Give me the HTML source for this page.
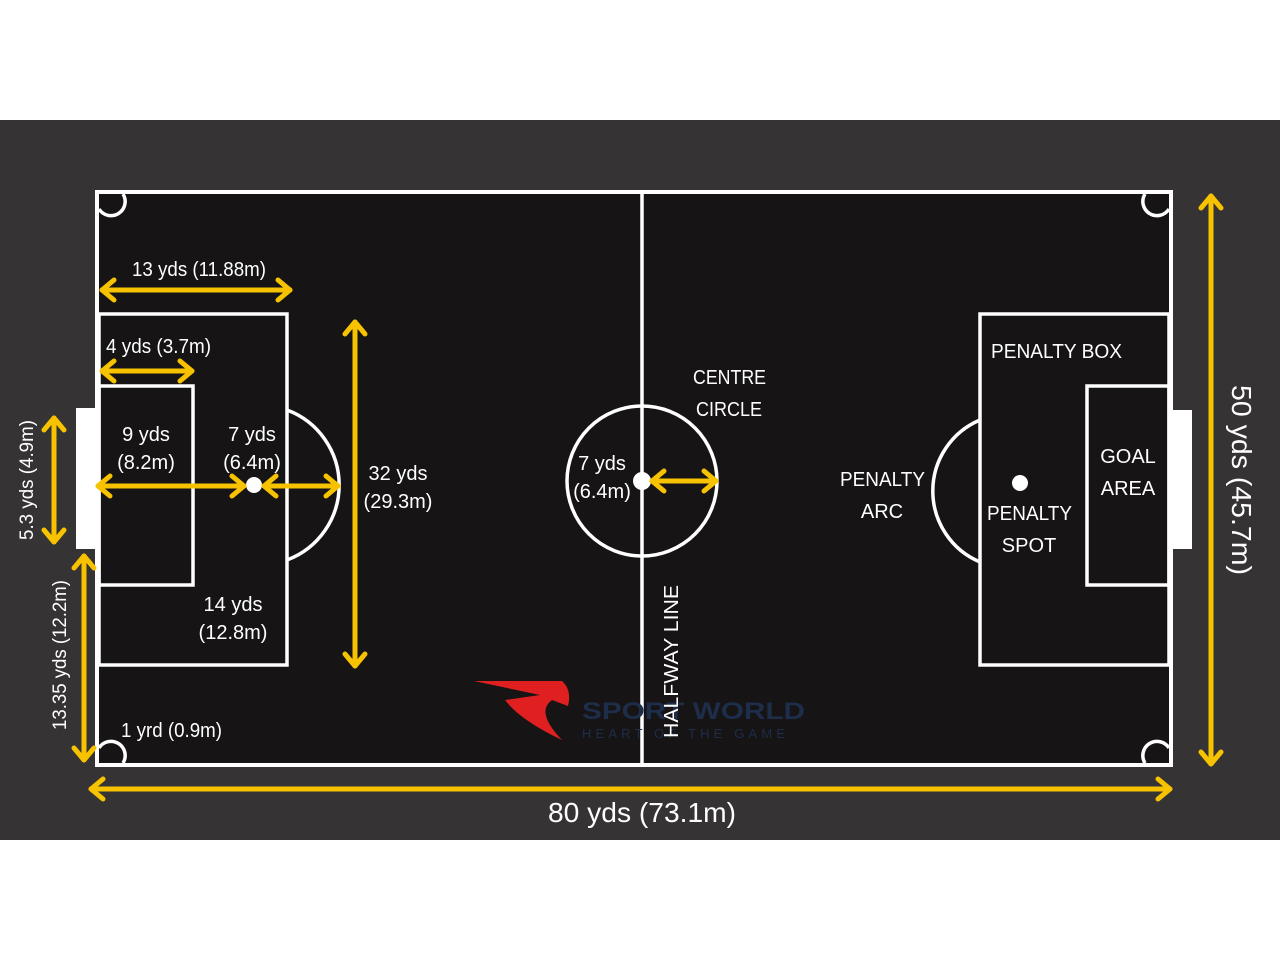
<!DOCTYPE html>
<html><head><meta charset="utf-8"><style>
html,body{margin:0;padding:0;background:#fff;}
svg{display:block}
text{font-family:"Liberation Sans Narrow","Liberation Sans",sans-serif;fill:#fff;}
</style></head><body>
<svg width="1280" height="960" viewBox="0 0 1280 960" xmlns="http://www.w3.org/2000/svg">
<rect x="0" y="0" width="1280" height="960" fill="#fff"/>
<rect x="0" y="120" width="1280" height="720" fill="#363334"/>
<rect x="97" y="192" width="1074" height="573" fill="#161415" stroke="#fff" stroke-width="4"/>
<rect x="76" y="408" width="21" height="141" fill="#fff"/>
<rect x="1171" y="410" width="21" height="139" fill="#fff"/>
<g fill="none" stroke="#fff" stroke-width="3.5">
<line x1="642" y1="192" x2="642" y2="765"/>
<circle cx="642" cy="481" r="75"/>
<rect x="99" y="314" width="188" height="351"/>
<rect x="99" y="386" width="94" height="199"/>
<path d="M287 410 A80 80 0 0 1 287 560"/>
<rect x="980" y="314" width="189" height="351"/>
<rect x="1087" y="386" width="82" height="199"/>
<path d="M980 420 A77 77 0 0 0 980 562"/>
<path d="M99 209 A14 14 0 0 0 123 194"/>
<path d="M1169 209 A14 14 0 0 1 1145 194"/>
<path d="M99 748 A14 14 0 0 1 123 763"/>
<path d="M1169 748 A14 14 0 0 0 1145 763"/>
</g>
<circle cx="254" cy="485" r="8" fill="#fff"/>
<circle cx="642" cy="481" r="9" fill="#fff"/>
<circle cx="1020" cy="483" r="8" fill="#fff"/>
<path d="M474 681 L562 681 Q572 690 568 706 L552 700 Q535 712 562 740 Q520 720 505 700 L540 695 Z" fill="#e02020"/>
<text x="582" y="719" textLength="223" lengthAdjust="spacingAndGlyphs" style="font-family:'Liberation Sans',sans-serif;font-weight:bold;font-size:24px;fill:#1d2d4a">SPORT WORLD</text>
<text x="582" y="738" textLength="203" style="font-family:'Liberation Sans',sans-serif;font-size:13px;fill:#1d2d4a">HEART OF THE GAME</text>
<g fill="none" stroke="#f7c300" stroke-width="5" stroke-linecap="round" stroke-linejoin="round">
<line x1="102" y1="290" x2="290" y2="290"/><path d="M114 280 L102 290 L114 300 M278 280 L290 290 L278 300"/>
<line x1="102" y1="371" x2="192" y2="371"/><path d="M114 361 L102 371 L114 381 M180 361 L192 371 L180 381"/>
<line x1="98" y1="486" x2="244" y2="486"/><path d="M110 476 L98 486 L110 496 M232 476 L244 486 L232 496"/>
<line x1="264" y1="486" x2="338" y2="486"/><path d="M276 476 L264 486 L276 496 M326 476 L338 486 L326 496"/>
<line x1="355" y1="322" x2="355" y2="666"/><path d="M345 334 L355 322 L365 334 M345 654 L355 666 L365 654"/>
<line x1="652" y1="481" x2="716" y2="481"/><path d="M664 471 L652 481 L664 491 M704 471 L716 481 L704 491"/>
<line x1="54" y1="418" x2="54" y2="542"/><path d="M44 430 L54 418 L64 430 M44 530 L54 542 L64 530"/>
<line x1="84" y1="556" x2="84" y2="760"/><path d="M74 568 L84 556 L94 568 M74 748 L84 760 L94 748"/>
<line x1="1211" y1="196" x2="1211" y2="764"/><path d="M1201 208 L1211 196 L1221 208 M1201 752 L1211 764 L1221 752"/>
<line x1="91" y1="789" x2="1170" y2="789"/><path d="M103 779 L91 789 L103 799 M1158 779 L1170 789 L1158 799"/>
</g>
<g font-size="20">
<text x="132" y="276" textLength="134" lengthAdjust="spacingAndGlyphs">13 yds (11.88m)</text>
<text x="106" y="353" textLength="105" lengthAdjust="spacingAndGlyphs">4 yds (3.7m)</text>
<text x="146" y="441" text-anchor="middle">9 yds</text>
<text x="146" y="469" text-anchor="middle">(8.2m)</text>
<text x="252" y="441" text-anchor="middle">7 yds</text>
<text x="252" y="469" text-anchor="middle">(6.4m)</text>
<text x="398" y="480" text-anchor="middle">32 yds</text>
<text x="398" y="508" text-anchor="middle">(29.3m)</text>
<text x="233" y="611" text-anchor="middle">14 yds</text>
<text x="233" y="639" text-anchor="middle">(12.8m)</text>
<text x="121" y="737" textLength="101" lengthAdjust="spacingAndGlyphs">1 yrd (0.9m)</text>
<text x="602" y="470" text-anchor="middle">7 yds</text>
<text x="602" y="498" text-anchor="middle">(6.4m)</text>
<text x="693" y="384" textLength="73" lengthAdjust="spacingAndGlyphs">CENTRE</text>
<text x="696" y="416" textLength="66" lengthAdjust="spacingAndGlyphs">CIRCLE</text>
<text x="840" y="486" textLength="85" lengthAdjust="spacingAndGlyphs">PENALTY</text>
<text x="882" y="518" text-anchor="middle">ARC</text>
<text x="991" y="358" textLength="131" lengthAdjust="spacingAndGlyphs">PENALTY BOX</text>
<text x="1128" y="463" text-anchor="middle">GOAL</text>
<text x="1128" y="495" text-anchor="middle">AREA</text>
<text x="987" y="520" textLength="85" lengthAdjust="spacingAndGlyphs">PENALTY</text>
<text x="1029" y="552" text-anchor="middle">SPOT</text>
<text transform="translate(678,738) rotate(-90)" textLength="153" lengthAdjust="spacingAndGlyphs">HALFWAY LINE</text>
<text transform="translate(33,540) rotate(-90)" font-size="19" textLength="120" lengthAdjust="spacingAndGlyphs">5.3 yds (4.9m)</text>
<text transform="translate(66,730) rotate(-90)" font-size="19" textLength="150" lengthAdjust="spacingAndGlyphs">13.35 yds (12.2m)</text>
</g>
<text x="548" y="822" font-size="28" textLength="188" lengthAdjust="spacingAndGlyphs">80 yds (73.1m)</text>
<text transform="translate(1232,385) rotate(90)" font-size="28" textLength="190" lengthAdjust="spacingAndGlyphs">50 yds (45.7m)</text>
</svg>
</body></html>
